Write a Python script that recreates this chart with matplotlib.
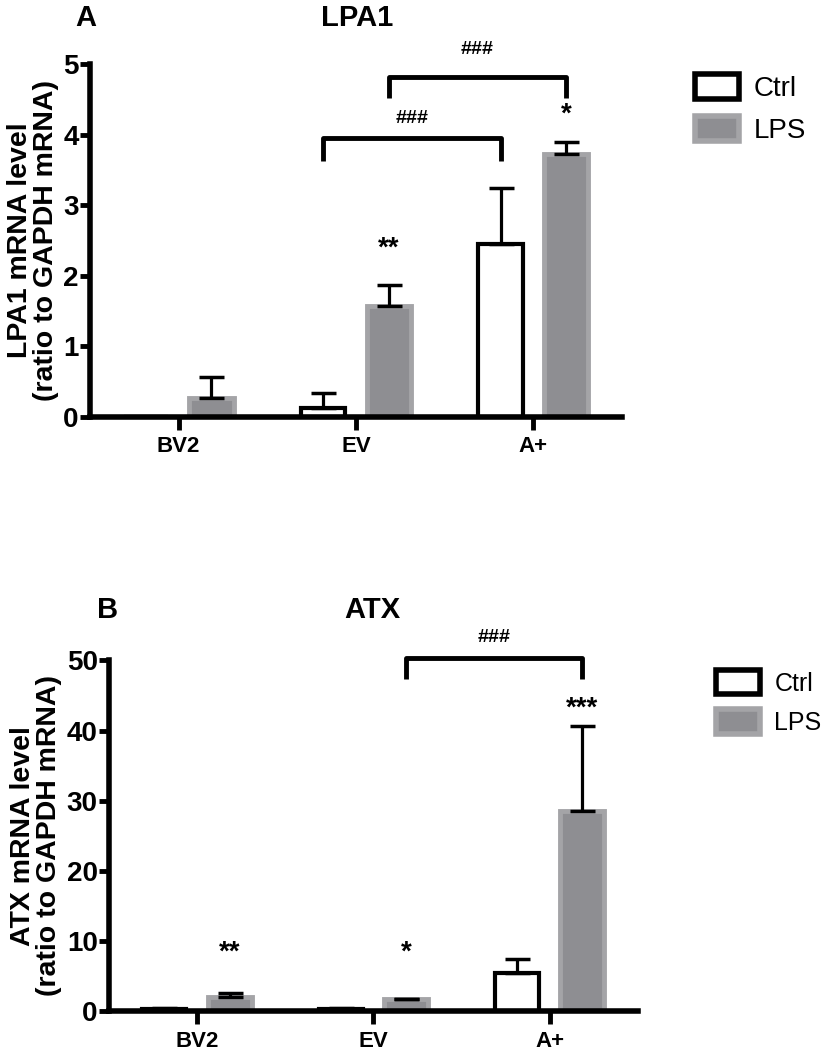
import numpy as np
import matplotlib
matplotlib.use("Agg")
import matplotlib.pyplot as plt
from matplotlib.patches import Patch

# data
groups = ["BV2", "EV", "A+"]
series = ["Ctrl", "LPS"]

lpa1_ctrl = [0.0, 0.12, 2.45]
lpa1_ctrl_err = [0.0, 0.22, 0.80]
lpa1_lps = [0.27, 1.57, 3.72]
lpa1_lps_err = [0.30, 0.30, 0.18]

atx_ctrl = [0.3, 0.35, 5.5]
atx_ctrl_err = [0.1, 0.05, 2.0]
atx_lps = [2.0, 1.7, 28.6]
atx_lps_err = [0.6, 0.1, 12.0]

SANS = ["Liberation Sans", "DejaVu Sans"]
GRAY = "#8e8e92"
GRAY_EDGE = "#a4a4a7"
W, H = 824, 1050

fig = plt.figure(figsize=(W / 100, H / 100), dpi=100)


def panel(rect, ctrl, ctrl_err, lps, lps_err, ymax, ystep, letter, title,
          ylab, stars, brackets, head_px, legend_px, legend_size):
    ax = fig.add_axes(rect)
    x = np.arange(len(groups))
    off, w = 0.185, 0.25

    ax.bar(x - off, ctrl, w, color="white", edgecolor="black", linewidth=3,
           zorder=2)
    ax.bar(x + off, lps, w, color=GRAY, edgecolor=GRAY_EDGE, linewidth=3.5,
           zorder=2)
    for xs, v, e in [(x - off, ctrl, ctrl_err), (x + off, lps, lps_err)]:
        ax.errorbar(xs, v, yerr=[np.zeros(3), e], fmt="none",
                    ecolor="black", elinewidth=2.3, capsize=9, capthick=2.5,
                    zorder=3)

    # significance marks over LPS bars
    for i, (txt, yv) in enumerate(stars):
        if txt:
            ax.text(x[i] + off, yv, txt, ha="center", va="center",
                    fontsize=20, fontweight="bold", family=SANS)

    # comparison brackets
    for (x0, x1, ytop, yleg, ytxt) in brackets:
        ax.plot([x0, x0, x1, x1], [yleg, ytop, ytop, yleg], color="black",
                lw=3.5, clip_on=False, solid_capstyle="butt")
        ax.text((x0 + x1) / 2, ytxt, "###", ha="center", va="center",
                fontsize=14, fontweight="bold", family=SANS)

    ax.set_xlim(-0.5, 2.5)
    ax.set_ylim(0, ymax)
    ax.set_yticks(np.arange(0, ymax + ystep / 2, ystep))
    ax.set_xticks(x)
    ax.set_xticklabels(groups, fontsize=16, fontweight="bold", family=SANS)
    for lab in ax.get_yticklabels():
        lab.set_family(SANS)
        lab.set_fontsize(20)
        lab.set_fontweight("bold")
    ax.tick_params(axis="y", width=3.5, length=7, pad=1)
    ax.tick_params(axis="x", width=3.5, length=9, pad=5)

    for s in ["top", "right"]:
        ax.spines[s].set_visible(False)
    ax.spines["left"].set_linewidth(4)
    ax.spines["bottom"].set_linewidth(4)

    ax.set_ylabel(ylab, fontsize=20.5, fontweight="bold", family=SANS,
                  linespacing=1.0, labelpad=3)

    (lx, ly), (tx, ty) = head_px
    fig.text(lx / W, 1 - ly / H, letter, ha="center", va="center",
             fontsize=21, fontweight="bold", family=SANS)
    fig.text(tx / W, 1 - ty / H, title, ha="center", va="center",
             fontsize=21, fontweight="bold", family=SANS)

    handles = [Patch(facecolor="white", edgecolor="black", linewidth=4),
               Patch(facecolor=GRAY, edgecolor=GRAY_EDGE, linewidth=4)]
    k = 20.0 / legend_size
    ax.legend(handles, series, loc="upper left",
              bbox_to_anchor=(legend_px[0] / W, 1 - legend_px[1] / H),
              bbox_transform=fig.transFigure, frameon=False,
              borderpad=0, borderaxespad=0,
              handlelength=1.6 * k, handleheight=1.0 * k,
              labelspacing=0.5 * k, handletextpad=0.5 * k,
              prop={"family": SANS, "size": legend_size})
    return ax


off = 0.185
panel([0.109, 0.603, 0.646, 0.336],
      lpa1_ctrl, lpa1_ctrl_err, lpa1_lps, lpa1_lps_err,
      5, 1, "A", "LPA1",
      "LPA1 mRNA level\n(ratio to GAPDH mRNA)",
      [("", 0), ("**", 2.39), ("*", 4.28)],
      [(1 + off, 2 + off, 4.82, 4.52, 5.2),
       (1 - off, 2 - off, 3.95, 3.62, 4.23)],
      ((86, 18), (357, 18)), (695, 74), 20)

panel([0.132, 0.037, 0.642, 0.334],
      atx_ctrl, atx_ctrl_err, atx_lps, atx_lps_err,
      50, 10, "B", "ATX",
      "ATX mRNA level\n(ratio to GAPDH mRNA)",
      [("**", 8.4), ("*", 8.3), ("***", 43.2)],
      [(1 + off, 2 + off, 50.4, 47.4, 53.3)],
      ((108, 610), (372, 610)), (716, 670), 18)

fig.savefig("out.png", dpi=100)
